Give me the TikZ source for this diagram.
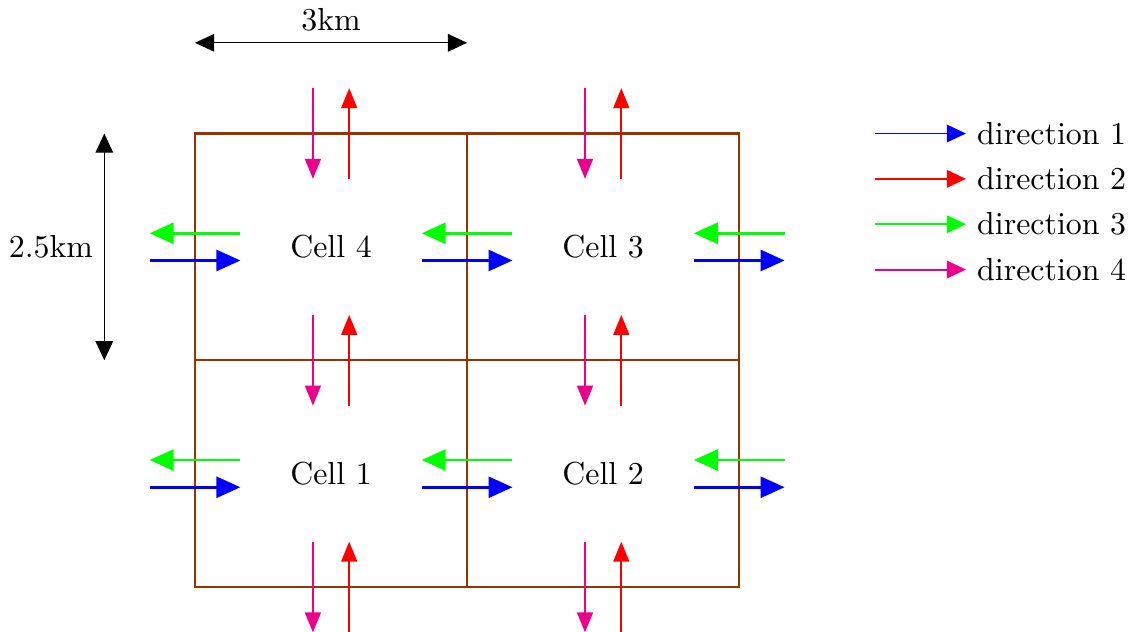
\documentclass[tikz,border=0pt]{standalone}
\usepackage{xcolor}
\usetikzlibrary{arrows.meta,positioning}
\definecolor{wallbrown}{RGB}{153,51,0}
\definecolor{dirpink}{RGB}{236,0,140}

\begin{document}
\begin{tikzpicture}[
  cellbox/.style={draw=wallbrown, line width=0.7pt, minimum width=3cm,
    minimum height=2.5cm, inner sep=0pt, outer sep=0pt},
  dimline/.style={{Triangle[width=5.5pt,length=6pt]}-{Triangle[width=5.5pt,length=6pt]}},
  flowv/.style={line width=0.6pt, -{Triangle[width=5pt,length=6.3pt]}},
  flowh/.style={thick, -{Triangle[width=6.6pt,length=7.5pt]}},
  legline/.style={line width=0.6pt, -{Triangle[width=5.5pt,length=6pt]}},
]
\useasboundingbox (-2.15,-0.485) rectangle (10.386,6.472);

\node[cellbox] (c1) at (1.5,1.25) {Cell 1};
\node[cellbox] (c2) at (4.5,1.25) {Cell 2};
\node[cellbox] (c3) at (4.5,3.75) {Cell 3};
\node[cellbox] (c4) at (1.5,3.75) {Cell 4};

% flows across horizontal walls
\foreach \p [count=\i] in {c4.north,c4.south,c1.south,c3.north,c3.south,c2.south}{
  \coordinate (dn-a-\i) at ([shift={(-0.2,0.5)}]\p);
  \coordinate (dn-b-\i) at ([shift={(-0.2,-0.5)}]\p);
  \coordinate (up-a-\i) at ([shift={(0.2,-0.5)}]\p);
  \coordinate (up-b-\i) at ([shift={(0.2,0.5)}]\p);
  \draw[flowv, dirpink] (dn-a-\i) -- (dn-b-\i);
  \draw[flowv, red] (up-a-\i) -- (up-b-\i);
}

% flows across vertical walls
\foreach \p [count=\i] in {c4.west,c4.east,c3.east,c1.west,c1.east,c2.east}{
  \coordinate (lt-a-\i) at ([shift={(0.5,0.15)}]\p);
  \coordinate (lt-b-\i) at ([shift={(-0.5,0.15)}]\p);
  \coordinate (rt-a-\i) at ([shift={(-0.5,-0.15)}]\p);
  \coordinate (rt-b-\i) at ([shift={(0.5,-0.15)}]\p);
  \draw[flowh, green] (lt-a-\i) -- (lt-b-\i);
  \draw[flowh, blue] (rt-a-\i) -- (rt-b-\i);
}

% cell size
\coordinate (w-a) at ([yshift=1cm]c4.north west);
\coordinate (w-b) at ([yshift=1cm]c4.north east);
\draw[dimline] (w-a) -- node[above] (wlab) {3km} (w-b);
\coordinate (h-a) at ([xshift=-1cm]c4.north west);
\coordinate (h-b) at ([xshift=-1cm]c4.south west);
\draw[dimline] (h-a) -- node[left] (hlab) {2.5km} (h-b);

% legend
\foreach \col/\txt [count=\i] in {blue/direction 1,red/direction 2,green/direction 3,dirpink/direction 4}{
  \node[right] (leg\i) at (8.5,5.5-0.5*\i) {\txt};
  \coordinate (legs\i) at (7.5,5.5-0.5*\i);
  \draw[legline, \col] (legs\i) -- (leg\i.west);
}
\end{tikzpicture}
\end{document}
